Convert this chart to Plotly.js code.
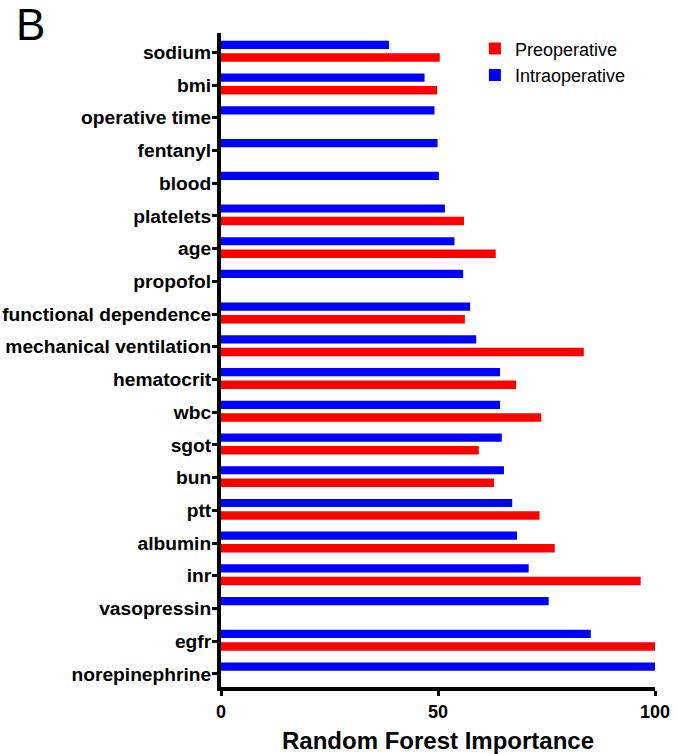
<!DOCTYPE html>
<html>
<head>
<meta charset="utf-8">
<script src="https://cdn.plot.ly/plotly-3.0.1.min.js"></script>
<style>html,body{margin:0;padding:0;background:#fff;}#chart{width:677px;height:754px;}</style>
</head>
<body>
<div id="chart"></div>
<script>
var categories = ["sodium","bmi","operative time","fentanyl","blood","platelets","age","propofol",
  "functional dependence","mechanical ventilation","hematocrit","wbc","sgot","bun","ptt","albumin",
  "inr","vasopressin","egfr","norepinephrine"];
var intraoperative = [38.7,46.9,49.2,49.9,50.2,51.6,53.8,55.8,57.4,58.8,64.3,64.3,64.7,65.2,67.1,68.2,70.9,75.5,85.2,100];
var preoperative = [50.4,49.8,null,null,null,56.0,63.3,null,56.2,83.6,68.0,73.8,59.4,62.9,73.4,76.9,96.7,null,100,null];
var xTicks = [0,50,100];

var FONT = '"Liberation Sans", Arial, Helvetica, sans-serif';

var traces = [
  {type:'bar', orientation:'h', name:'Intraoperative', y:categories, x:intraoperative,
   marker:{color:'#0000ff'}, width:0.25, offset:-0.35, hoverinfo:'x+y'},
  {type:'bar', orientation:'h', name:'Preoperative', y:categories, x:preoperative,
   marker:{color:'#ff0000'}, width:0.26, offset:0.03, hoverinfo:'x+y'}
];

var layout = {
  width:677, height:754,
  margin:{l:221, r:22, t:33, b:67, pad:0},
  paper_bgcolor:'#fff', plot_bgcolor:'#fff',
  font:{family:FONT, color:'#000'},
  barmode:'group',
  showlegend:true,
  legend:{x:0.585, y:1.004, xanchor:'left', yanchor:'top', traceorder:'reversed',
          font:{family:FONT, size:18, color:'#000'}, bgcolor:'rgba(0,0,0,0)', tracegroupgap:0},
  xaxis:{range:[0,100], tickvals:xTicks, ticktext:xTicks.map(String), showgrid:false, zeroline:false,
         showline:true, linecolor:'#000', linewidth:4, ticks:'outside', ticklen:5, tickwidth:3, tickcolor:'#000',
         tickfont:{family:FONT, size:18, color:'#000', weight:'bold'},
         title:{text:'<b>Random Forest Importance</b>', font:{family:FONT, size:24, color:'#000'}, standoff:20},
         fixedrange:true},
  yaxis:{type:'category', categoryorder:'array', categoryarray:categories, range:[19.4,-0.59],
         showgrid:false, zeroline:false, showline:true, linecolor:'#000', linewidth:4,
         ticks:'outside', ticklen:5, tickwidth:3, tickcolor:'#000', ticklabelstandoff:-3,
         tickfont:{family:FONT, size:19.2, color:'#000', weight:'bold'}, fixedrange:true},
  annotations:[{text:'B', xref:'paper', yref:'paper', x:-0.44, y:1.0125, xanchor:'center', yanchor:'middle',
                showarrow:false, font:{family:FONT, size:44, color:'#000'}}]
};

Plotly.newPlot('chart', traces, layout, {displayModeBar:false, staticPlot:true});
</script>
</body>
</html>
